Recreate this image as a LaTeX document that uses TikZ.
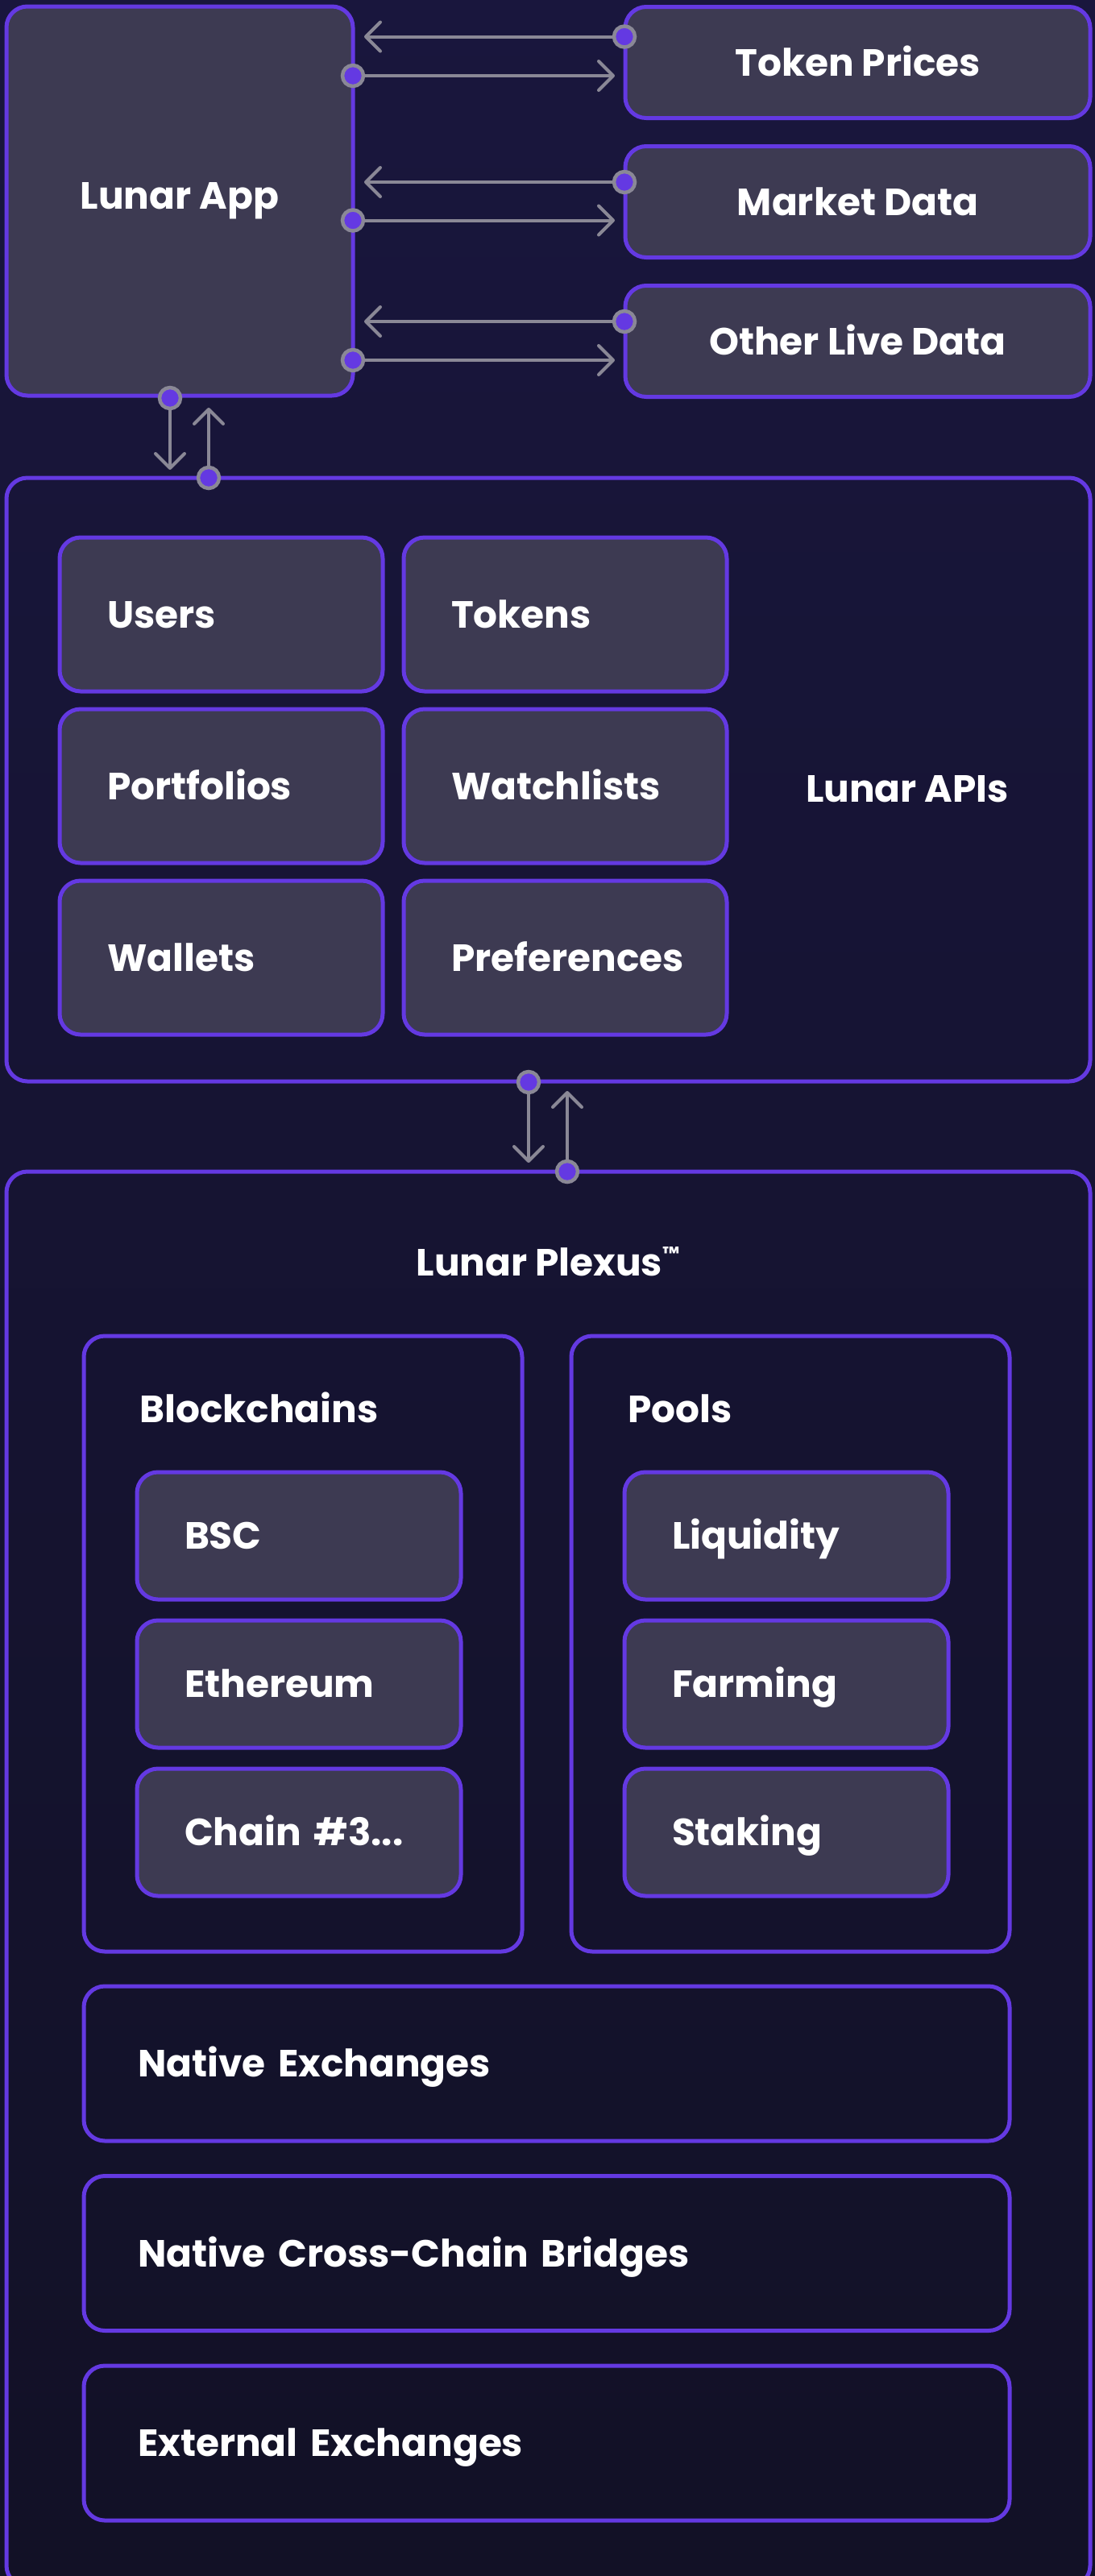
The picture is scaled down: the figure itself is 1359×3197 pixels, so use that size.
\documentclass[tikz,border=0pt]{standalone}
\usepackage{fontspec}
\setmainfont{Poppins}
\usetikzlibrary{positioning, arrows.meta}
\definecolor{lunarbgtop}{HTML}{19163D}
\definecolor{lunarbgbot}{HTML}{121126}
\definecolor{lunarpurple}{HTML}{6439E2}
\definecolor{lunarcard}{HTML}{3D3A52}
\definecolor{lunarwire}{HTML}{8A8896}
\hyphenpenalty=10000

\begin{document}
\begin{tikzpicture}[x=1pt,y=-1pt,on grid,node distance=213pt,
    every node/.style={text=white,font=\bfseries\fontsize{47}{55}\selectfont},
    frame/.style={draw=lunarpurple,line width=5pt,rounded corners=26pt,inner sep=0pt},
    card/.style={frame,fill=lunarcard},
    capline/.style={text height=33pt,text depth=0pt},
    feed/.style={card,capline,minimum width=577pt,minimum height=138pt},
    tile/.style={card,capline,minimum height=191pt,text width=283pt,inner xsep=59pt,align=left},
    slot/.style={card,capline,minimum height=158pt,text width=284pt,inner xsep=59pt,align=left},
    strip/.style={frame,capline,minimum height=192pt,text width=1015pt,inner xsep=67pt,align=left},
    port/.style={circle,fill=lunarpurple,draw=lunarwire,line width=4.5pt,minimum size=26pt,inner sep=0pt},
    wire/.style={draw=lunarwire,line width=4pt,-{Straight Barb[length=18pt,width=36pt,round]}}]
   \useasboundingbox (0,0) rectangle (1359,3197);
   \clip (0,0) rectangle (1359,3197);
   \shade[top color=lunarbgtop,bottom color=lunarbgbot] (0,0) rectangle (1359,3197);

   \node[card,minimum width=430pt,minimum height=483pt] (app) at (223,249.5) {Lunar App};
   \node[feed] (prices) at (1064.5,77.5) {Token Prices};
   \node[feed] (market) [below=173pt of prices] {Market Data};
   \node[feed] (live) [below=173pt of market] {Other Live Data};

   \node[frame,minimum width=1345pt,minimum height=749pt] (apis) at (680.5,967.5) {};
   \node[tile] (users) at (274.5,762.5) {Users};
   \node[tile] (tokens) [right=427pt of users] {Tokens};
   \node[tile] (portfolios) [below=of users] {Portfolios};
   \node[tile] (watchlists) [below=of tokens] {Watchlists};
   \node[tile] (wallets) [below=of portfolios] {Wallets};
   \node[tile] (preferences) [below=of watchlists] {Preferences};
   \node[anchor=base] (apis-label) at (1126,995) {Lunar APIs};

   \node[frame,minimum width=1345pt,minimum height=1756pt] (plexus) at (680.5,2332) {};
   \node[anchor=base] (plexus-label) at (680,1583)
      {Lunar Plexus\raisebox{19pt}{\fontsize{24}{24}\selectfont™}};
   \node[frame,minimum width=544pt,minimum height=764pt] (chains) at (376,2040) {};
   \node[frame,minimum width=544pt,minimum height=764pt] (pools) [right=605pt of chains] {};
   \node[anchor=base west] (chains-label) at (170,1765) {Blockchains};
   \node[anchor=base west] (pools-label) at (776,1765) {Pools};
   \node[slot] (bsc) at (371,1906) {BSC};
   \node[slot] (ethereum) [below=184pt of bsc] {Ethereum};
   \node[slot] (chain3) [below=184pt of ethereum] {Chain \#3...};
   \node[slot] (liquidity) [right=605pt of bsc] {Liquidity};
   \node[slot] (farming) [below=184pt of liquidity] {Farming};
   \node[slot] (staking) [below=184pt of farming] {Staking};
   \node[strip] (native) at (678.5,2561) {Native Exchanges};
   \node[strip] (bridges) [below=235.5pt of native] {Native Cross-Chain Bridges};
   \node[strip] (external) [below=235.5pt of bridges] {External Exchanges};

   \foreach \feed/\yin/\yout in {prices/45.5/94, market/226/273.5, live/399/447} {
      \node[port] (\feed-src) at (775,\yin) {};
      \coordinate (\feed-tip) at (452,\yin);
      \node[port] (app-\feed) at (438,\yout) {};
      \coordinate (\feed-in) at (763,\yout);
      \draw[wire] (\feed-src) -- (\feed-tip);
      \draw[wire] (app-\feed) -- (\feed-in);
   }

   \node[port] (app-down) at (211,494) {};
   \coordinate (apis-in) at (211,583);
   \node[port] (apis-up) at (259,593) {};
   \coordinate (app-in) at (259,506);
   \node[port] (apis-down) at (656,1343) {};
   \coordinate (plexus-in) at (656,1443);
   \node[port] (plexus-up) at (704,1454) {};
   \coordinate (apis-back) at (704,1354);
   \path[wire]
    (app-down) edge (apis-in)
    (apis-up) edge (app-in)
    (apis-down) edge (plexus-in)
    (plexus-up) edge (apis-back);
\end{tikzpicture}
\end{document}
